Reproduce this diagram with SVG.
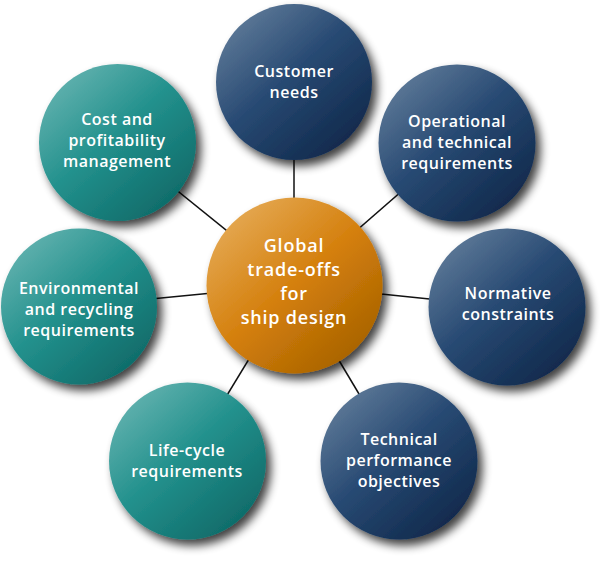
<svg xmlns="http://www.w3.org/2000/svg" width="600" height="565" viewBox="0 0 600 565">
<defs>
<linearGradient id="gBlue" x1="0.15" y1="0.1" x2="0.85" y2="0.9">
<stop offset="0" stop-color="#5b7796"/>
<stop offset="0.45" stop-color="#284a73"/>
<stop offset="1" stop-color="#10294c"/>
</linearGradient>
<linearGradient id="gTeal" x1="0.15" y1="0.1" x2="0.85" y2="0.9">
<stop offset="0" stop-color="#5fb0ad"/>
<stop offset="0.45" stop-color="#23918d"/>
<stop offset="1" stop-color="#0f6b69"/>
</linearGradient>
<linearGradient id="gOrange" x1="0.15" y1="0.1" x2="0.85" y2="0.9">
<stop offset="0" stop-color="#e4a750"/>
<stop offset="0.5" stop-color="#d47f0c"/>
<stop offset="1" stop-color="#a86300"/>
</linearGradient>
<filter id="shadow" x="-30%" y="-30%" width="160%" height="160%">
<feGaussianBlur in="SourceAlpha" stdDeviation="5"/>
<feOffset dx="5" dy="6" result="b"/>
<feComponentTransfer><feFuncA type="linear" slope="0.75"/></feComponentTransfer>
<feMerge><feMergeNode/><feMergeNode in="SourceGraphic"/></feMerge>
</filter>
</defs>
<style>
.lbl{font-family:"Open Sans","Liberation Sans",sans-serif;font-size:16px;font-weight:600;fill:#ffffff;text-anchor:middle;letter-spacing:0.5px}
.big{font-size:18px;letter-spacing:0.8px}
.conn line{stroke:#111;stroke-width:1.5}
.blue{fill:url(#gBlue);filter:url(#shadow)}
.teal{fill:url(#gTeal);filter:url(#shadow)}
.orange{fill:url(#gOrange);filter:url(#shadow)}
</style>
<g id="connectors" class="conn">
<line x1="294" y1="285" x2="294" y2="82"/>
<line x1="294" y1="285" x2="457" y2="143"/>
<line x1="294" y1="285" x2="507" y2="307"/>
<line x1="294" y1="285" x2="399" y2="461"/>
<line x1="294" y1="285" x2="187" y2="461"/>
<line x1="294" y1="285" x2="79" y2="306"/>
<line x1="294" y1="285" x2="117" y2="142"/>
</g>
<g id="customer">
<circle class="blue" cx="294" cy="82" r="78"/>
<text class="lbl" x="294" y="77">Customer</text>
<text class="lbl" x="294" y="98">needs</text>
</g>
<g id="operational">
<circle class="blue" cx="457" cy="143" r="78.5"/>
<text class="lbl" x="457" y="127">Operational</text>
<text class="lbl" x="457" y="148">and technical</text>
<text class="lbl" x="457" y="169">requirements</text>
</g>
<g id="normative">
<circle class="blue" cx="507" cy="307" r="78.5"/>
<text class="lbl" x="508" y="299">Normative</text>
<text class="lbl" x="508" y="320">constraints</text>
</g>
<g id="technical">
<circle class="blue" cx="399" cy="461" r="78.5"/>
<text class="lbl" x="399" y="445">Technical</text>
<text class="lbl" x="399" y="466">performance</text>
<text class="lbl" x="399" y="487">objectives</text>
</g>
<g id="lifecycle">
<circle class="teal" cx="187.5" cy="461" r="78.5"/>
<text class="lbl" x="187" y="456">Life-cycle</text>
<text class="lbl" x="187" y="477">requirements</text>
</g>
<g id="environmental">
<circle class="teal" cx="79" cy="306.5" r="78"/>
<text class="lbl" x="79" y="294">Environmental</text>
<text class="lbl" x="79" y="315">and recycling</text>
<text class="lbl" x="79" y="336">requirements</text>
</g>
<g id="cost">
<circle class="teal" cx="117.5" cy="142.5" r="78.5"/>
<text class="lbl" x="117" y="125">Cost and</text>
<text class="lbl" x="117" y="146">profitability</text>
<text class="lbl" x="117" y="167">management</text>
</g>
<g id="center">
<circle class="orange" cx="294.5" cy="285.5" r="88"/>
<text class="lbl big" x="294" y="252">Global</text>
<text class="lbl big" x="294" y="276">trade-offs</text>
<text class="lbl big" x="294" y="300">for</text>
<text class="lbl big" x="294" y="324">ship design</text>
</g>
</svg>
